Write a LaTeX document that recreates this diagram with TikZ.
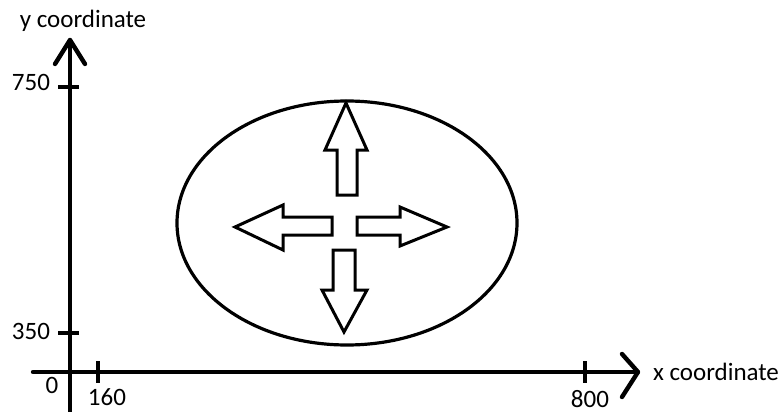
\documentclass[tikz,border=0pt]{standalone}
\usepackage{fontspec}
\setmainfont{Carlito}
\usepackage{tikz}
\usetikzlibrary{positioning}

\tikzset{
  axisline/.style={line width=2.2pt, line cap=round, line join=round},
  tickmark/.style={line width=2.2pt},
  blockarr/.style={line width=1.5pt, line join=miter, fill=white},
  lbl/.style={font=\fontsize{12.5}{14}\selectfont, inner sep=0pt},
}

\begin{document}
\begin{tikzpicture}[x=0.5pt, y=-0.5pt]
    \useasboundingbox (0,0) rectangle (783,412);
    % axes
    \coordinate (orig) at (70,372);
    \coordinate (ytip) at (70,40);
    \coordinate (xtip) at (638,372);
    \draw[axisline] (70,414) -- (ytip);
    \draw[axisline] (ytip) ++(-15,24) -- (ytip) -- ++(15,24);
    \draw[axisline] (33,372) -- (xtip);
    \draw[axisline] (xtip) ++(-16,-18) -- (xtip) -- ++(-16,25);
    % ticks
    \foreach \y in {87,333} \draw[tickmark] (58,\y) -- (79,\y);
    \foreach \x in {98,585} \draw[tickmark] (\x,361) -- (\x,383);
    % labels
    \node[lbl] (ylab) at (83,21) {y coordinate};
    \node[lbl] (xlab) at (716,372) {x coordinate};
    \node[lbl] (y750) at (31,82) {750};
    \node[lbl] (y350) at (31,331) {350};
    \node[lbl] (zero) at (52,385) {0};
    \node[lbl] (x160) at (107,397) {160};
    \node[lbl] (x800) at (590,399) {800};
    % region
    \draw[line width=1.6pt] (347,223) ellipse [x radius=170, y radius=122];
    % arrows
    \draw[blockarr] (337,195) -- (337,150) -- (325,150) -- (346,103) -- (367,150) -- (357,150) -- (357,195) -- cycle;
    \draw[blockarr] (332,217) -- (283,217) -- (283,205) -- (235,227) -- (283,250) -- (283,235) -- (332,235) -- cycle;
    \draw[blockarr] (357,217) -- (400,217) -- (400,207) -- (447,227) -- (400,246) -- (400,235) -- (357,235) -- cycle;
    \draw[blockarr] (333,250) -- (333,290) -- (322,290) -- (344,332) -- (367,290) -- (355,290) -- (355,250) -- cycle;
\end{tikzpicture}
\end{document}
